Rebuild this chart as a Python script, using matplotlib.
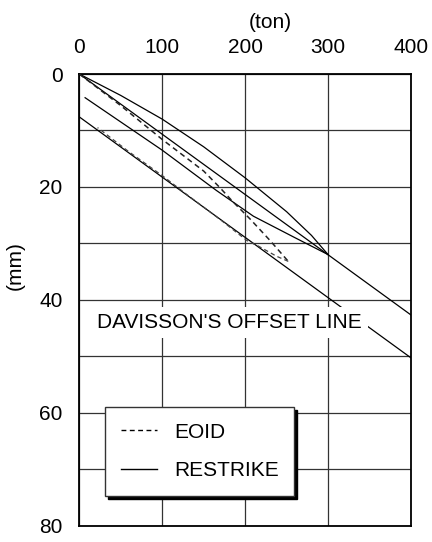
import matplotlib
matplotlib.use("Agg")
import matplotlib.pyplot as plt
from matplotlib.lines import Line2D

plt.rcParams['font.family'] = ['Liberation Sans', 'DejaVu Sans']

# ---- data (load in ton, settlement in mm) ----
restrike_load_up = [0, 50, 100, 150, 200, 250, 280, 300]
restrike_disp_up = [0, 3.8, 8.0, 12.9, 18.4, 24.4, 28.6, 32.0]

restrike_load_down = [300, 260, 210, 165, 100, 7]
restrike_disp_down = [32.0, 29.0, 25.2, 20.6, 13.5, 4.2]

eoid_load_up = [0, 25, 50, 75, 100, 125, 150, 170, 185, 206, 230, 252]
eoid_disp_up = [0, 2.8, 5.6, 8.6, 11.6, 14.4, 17.2, 20.2, 22.6, 25.7, 29.5, 33.2]

eoid_load_down = [252, 238, 216, 202, 170, 130, 100, 60, 22]
eoid_disp_down = [33.2, 32.3, 30.5, 29.5, 25.8, 21.4, 18.0, 13.8, 9.5]

elastic_load = [0, 400]
elastic_disp = [0, 42.7]

davisson_load = [0, 400]
davisson_disp = [7.6, 50.3]

x_ticks = [0, 100, 200, 300, 400]
y_ticks = [0, 20, 40, 60, 80]
y_minor = [10, 30, 50, 70]

FS = 15

# ---- figure ----
fig = plt.figure(figsize=(4.32, 5.42), dpi=100)
AW, AH = 411 - 79.3, 525.5 - 74
ax = fig.add_axes([79.3/432, 1-525.5/542, AW/432, AH/542])

ax.set_xlim(0, 400)
ax.set_ylim(80, 0)
ax.xaxis.tick_top()
ax.set_xticks(x_ticks)
ax.set_yticks(y_ticks)
ax.set_yticks(y_minor, minor=True)
ax.tick_params(axis='both', which='both', length=0, labelsize=FS, colors='black')
ax.tick_params(axis='x', pad=12.5)
ax.tick_params(axis='y', pad=12)
ax.grid(True, which='both', color='#333333', linewidth=0.9, zorder=0)
ax.set_axisbelow(True)
for s in ax.spines.values():
    s.set_linewidth(1.3)
    s.set_color('black')

lw = 0.9
ax.plot(restrike_load_up, restrike_disp_up, color='black', lw=lw, zorder=3)
ax.plot(restrike_load_down, restrike_disp_down, color='black', lw=lw, zorder=3)
ax.plot(elastic_load, elastic_disp, color='black', lw=lw, zorder=3)
ax.plot(davisson_load, davisson_disp, color='black', lw=lw, zorder=3)
ax.plot(eoid_load_up, eoid_disp_up, color='#222222', lw=1.1, dashes=(3.5, 2.5), zorder=3)
ax.plot(eoid_load_down, eoid_disp_down, color='#444444', lw=0.9, dashes=(3.5, 2.5), zorder=3)

ax.text(21.5, 44.0, "DAVISSON'S OFFSET LINE", fontsize=FS, ha='left', va='center',
        bbox=dict(boxstyle='square,pad=0.3', fc='white', ec='none'), zorder=5)

ax.set_xlabel('(ton)', fontsize=FS)
ax.xaxis.set_label_position('top')
ax.xaxis.set_label_coords((270-79.3)/AW, 1 + 46/AH)
ax.set_ylabel('(mm)', fontsize=FS)
ax.yaxis.set_label_coords(-55/AW, 1 - (266-74)/AH)

handles = [Line2D([], [], color='black', lw=1.0, dashes=(3.5, 2.5)),
           Line2D([], [], color='black', lw=1.0)]
leg = ax.legend(handles, ['EOID', 'RESTRIKE'], loc='upper left',
                bbox_to_anchor=((105-79.3)/AW, 1-(407-74)/AH),
                fontsize=FS, frameon=True, fancybox=False,
                shadow={'color': 'black', 'alpha': 1.0},
                handlelength=1.75, handletextpad=0.8, borderpad=0.75,
                labelspacing=0.95, borderaxespad=0, framealpha=1)
leg.get_frame().set_edgecolor('#333333')
leg.get_frame().set_linewidth(1.0)
leg.set_zorder(10)

fig.savefig('out.png', dpi=100)
